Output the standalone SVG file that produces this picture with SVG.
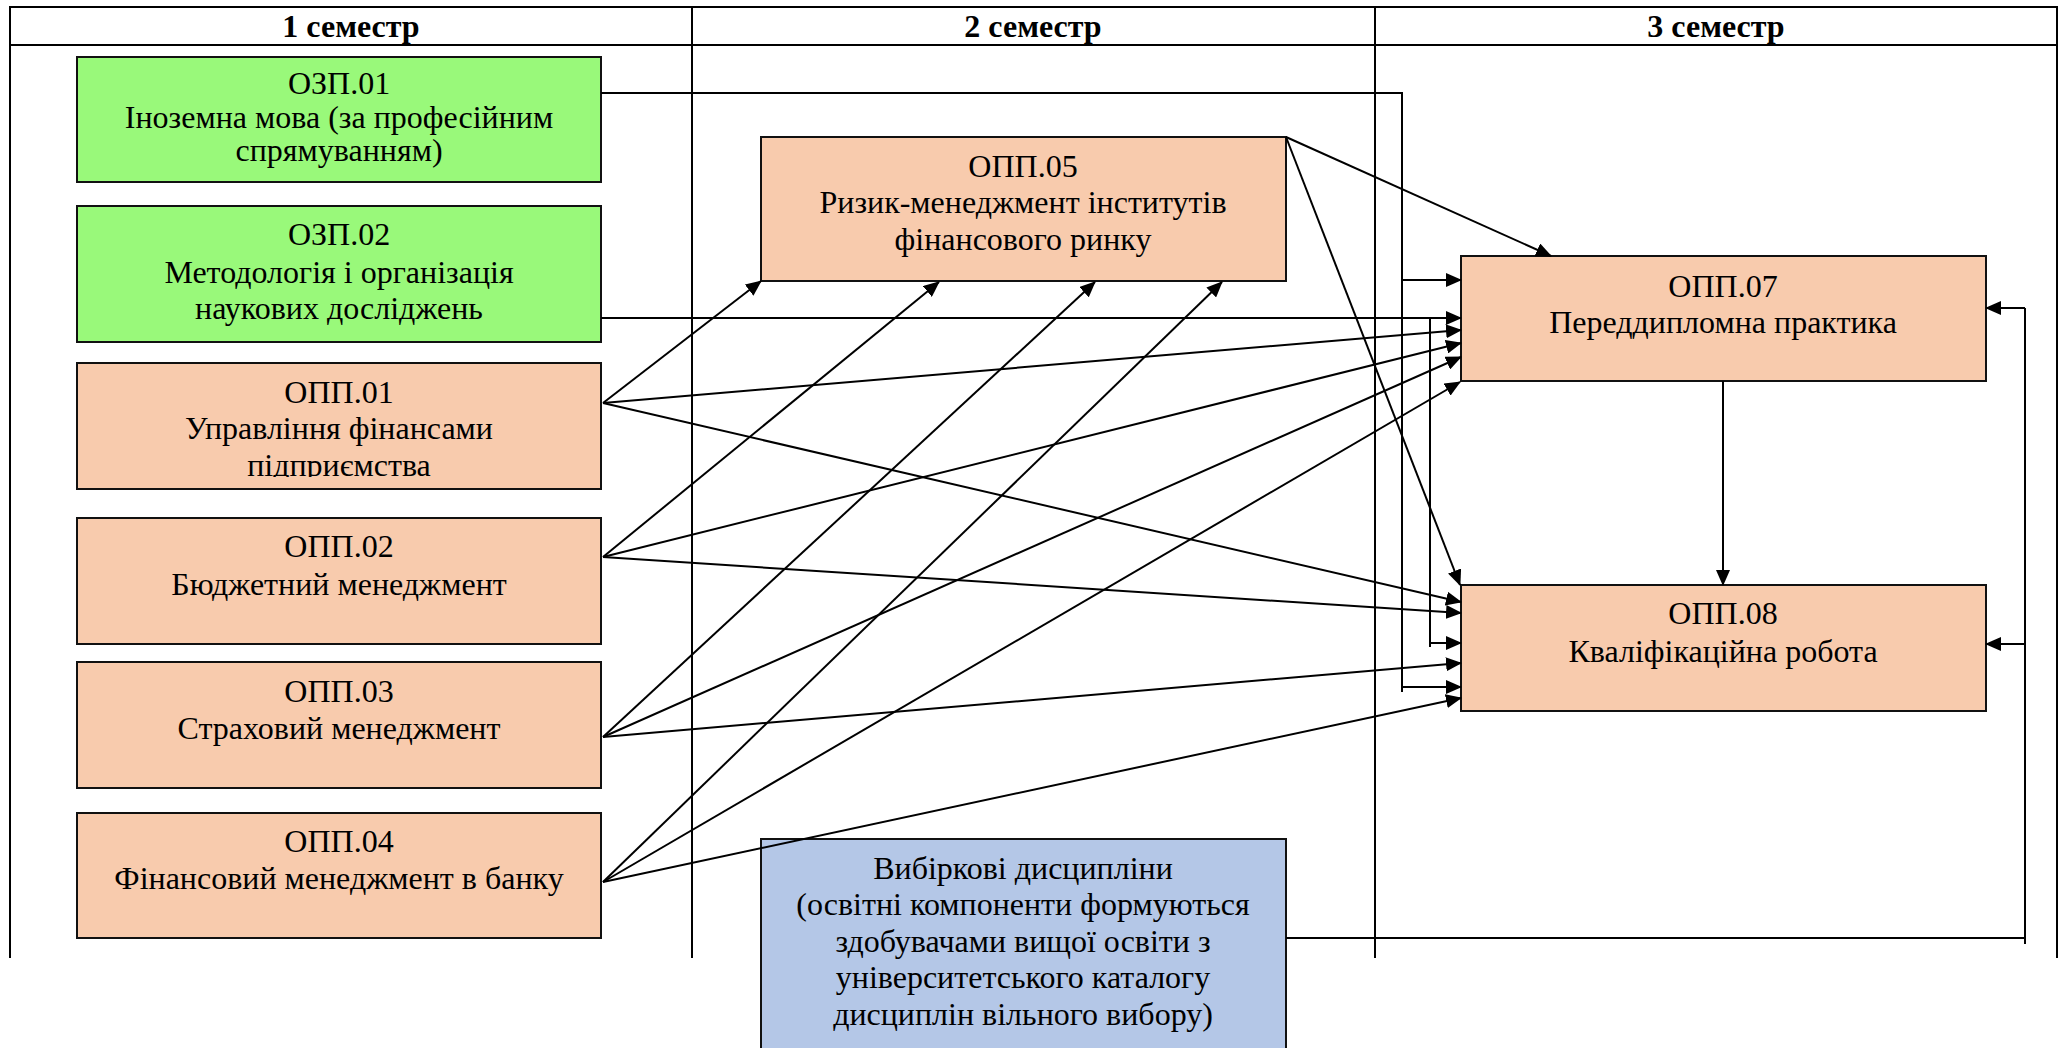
<svg xmlns="http://www.w3.org/2000/svg" width="2067" height="1048" viewBox="0 0 2067 1048">
<style>
.tbl{stroke:#000;stroke-width:2;fill:none}
.hdr{font-family:"Liberation Serif","Times New Roman",serif;font-weight:bold;font-size:32px;text-anchor:middle;fill:#000}
.box{stroke:#111;stroke-width:2}
.g{fill:#99F97A}
.p{fill:#F8CBAD}
.b{fill:#B4C7E7}
.t{font-family:"Liberation Serif","Times New Roman",serif;font-size:32px;text-anchor:middle;fill:#000}
.c{stroke:#000;stroke-width:2;fill:none}
.a{stroke:#000;stroke-width:2;fill:none;marker-end:url(#ah)}
</style>
<defs>
<marker id="ah" markerUnits="userSpaceOnUse" markerWidth="16" markerHeight="14" refX="15" refY="7" orient="auto">
<path d="M0,0 L16,7 L0,14 z" fill="#000"/>
</marker>
<clipPath id="clip1"><rect x="77" y="363" width="524" height="114"/></clipPath>
</defs>
<rect width="2067" height="1048" fill="#fff"/>
<g id="table">
<path class="tbl" d="M10,958 V7 H2057 V958 M10,45 H2057 M692,7 V958 M1375,7 V958"/>
<text class="hdr" x="351" y="37">1 семестр</text>
<text class="hdr" x="1033" y="37">2 семестр</text>
<text class="hdr" x="1716" y="37">3 семестр</text>
</g>
<g id="ozp01">
<rect class="box g" x="77" y="57" width="524" height="125"/>
<text class="t" x="339" y="94">ОЗП.01</text>
<text class="t" x="339" y="128">Іноземна мова (за професійним</text>
<text class="t" x="339" y="161">спрямуванням)</text>
</g>
<g id="ozp02">
<rect class="box g" x="77" y="206" width="524" height="136"/>
<text class="t" x="339" y="245">ОЗП.02</text>
<text class="t" x="339" y="283">Методологія і організація</text>
<text class="t" x="339" y="319">наукових досліджень</text>
</g>
<g id="opp01">
<rect class="box p" x="77" y="363" width="524" height="126"/>
<g clip-path="url(#clip1)">
<text class="t" x="339" y="403">ОПП.01</text>
<text class="t" x="339" y="439">Управління фінансами</text>
<text class="t" x="339" y="476">підприємства</text>
</g>
</g>
<g id="opp02">
<rect class="box p" x="77" y="518" width="524" height="126"/>
<text class="t" x="339" y="557">ОПП.02</text>
<text class="t" x="339" y="595">Бюджетний менеджмент</text>
</g>
<g id="opp03">
<rect class="box p" x="77" y="662" width="524" height="126"/>
<text class="t" x="339" y="702">ОПП.03</text>
<text class="t" x="339" y="739">Страховий менеджмент</text>
</g>
<g id="opp04">
<rect class="box p" x="77" y="813" width="524" height="125"/>
<text class="t" x="339" y="852">ОПП.04</text>
<text class="t" x="339" y="889">Фінансовий менеджмент в банку</text>
</g>
<g id="opp05">
<rect class="box p" x="761" y="137" width="525" height="144"/>
<text class="t" x="1023" y="177">ОПП.05</text>
<text class="t" x="1023" y="213">Ризик-менеджмент інститутів</text>
<text class="t" x="1023" y="250">фінансового ринку</text>
</g>
<g id="vybirkovi">
<rect class="box b" x="761" y="839" width="525" height="220"/>
<text class="t" x="1023" y="879">Вибіркові дисципліни</text>
<text class="t" x="1023" y="915">(освітні компоненти формуються</text>
<text class="t" x="1023" y="952">здобувачами вищої освіти з</text>
<text class="t" x="1023" y="988">університетського каталогу</text>
<text class="t" x="1023" y="1025">дисциплін вільного вибору)</text>
</g>
<g id="opp07">
<rect class="box p" x="1461" y="256" width="525" height="125"/>
<text class="t" x="1723" y="297">ОПП.07</text>
<text class="t" x="1723" y="333">Переддипломна практика</text>
</g>
<g id="opp08">
<rect class="box p" x="1461" y="585" width="525" height="126"/>
<text class="t" x="1723" y="624">ОПП.08</text>
<text class="t" x="1723" y="662">Кваліфікаційна робота</text>
</g>
<g id="connectors">
<path class="c" d="M601,93 H1402 V692"/>
<path class="a" d="M1402,280 H1461"/>
<path class="a" d="M1402,687 H1461"/>
<path class="a" d="M601,318 H1461"/>
<path class="c" d="M1430,318 V647"/>
<path class="a" d="M1430,643 H1461"/>
<path class="a" d="M603,403 L761,281"/>
<path class="a" d="M603,403 L1461,330"/>
<path class="a" d="M603,403 L1461,602"/>
<path class="a" d="M603,557 L939,282"/>
<path class="a" d="M603,557 L1461,343"/>
<path class="a" d="M603,557 L1461,613"/>
<path class="a" d="M603,737 L1095,282"/>
<path class="a" d="M603,737 L1461,357"/>
<path class="a" d="M603,737 L1461,663"/>
<path class="a" d="M603,882 L1222,282"/>
<path class="a" d="M603,882 L1460,382"/>
<path class="a" d="M603,882 L1461,698"/>
<path class="a" d="M1286,137 L1551,256"/>
<path class="a" d="M1286,137 L1460,585"/>
<path class="a" d="M1723,381 V585"/>
<path class="c" d="M1286,938 H2025 V308 M2025,938 V944"/>
<path class="a" d="M2025,308 H1986"/>
<path class="a" d="M2025,644 H1986"/>
</g>
</svg>
